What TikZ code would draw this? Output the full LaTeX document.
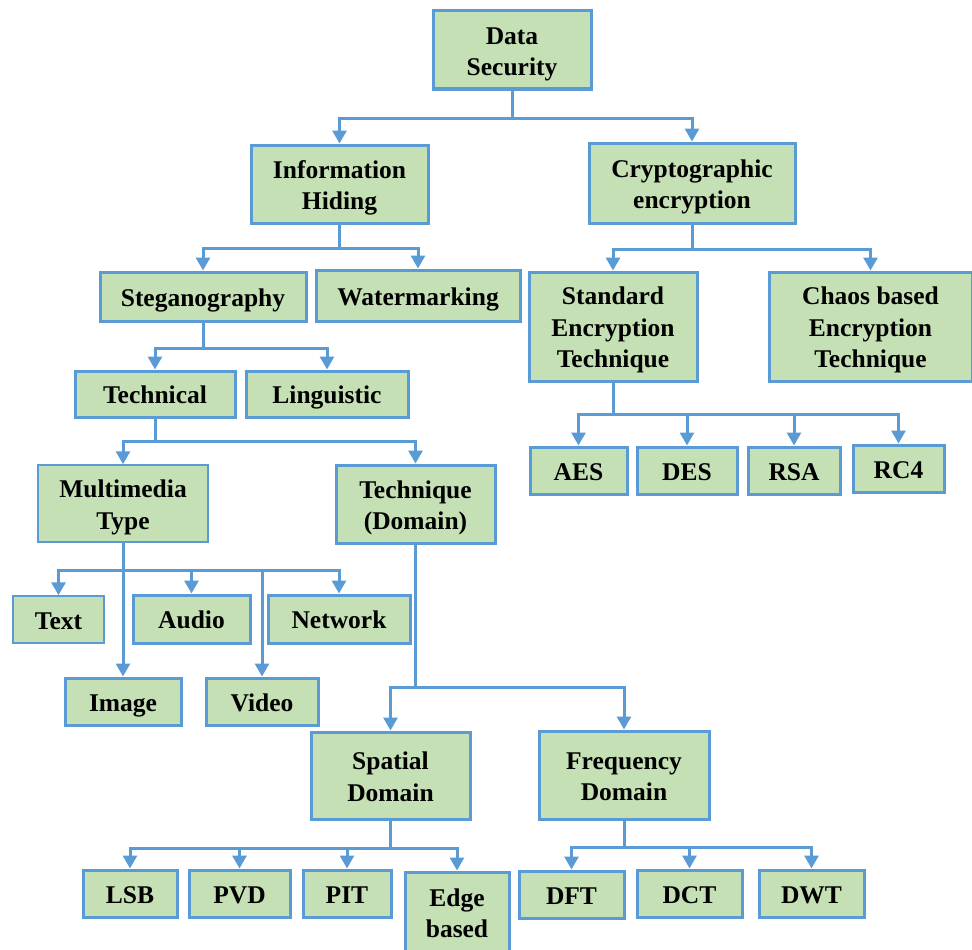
\documentclass[tikz,border=0pt]{standalone}
\usepackage{fontspec}
\setmainfont{Liberation Serif}
\usetikzlibrary{arrows.meta}
\definecolor{boxfill}{HTML}{C5E0B4}
\definecolor{boxline}{HTML}{5B9BD5}
\begin{document}
\begin{tikzpicture}[x=1pt,y=-1pt,
  box/.style={draw=boxline, fill=boxfill, line width=3pt, inner sep=0pt, align=center,
    font=\fontsize{25.5}{31.5}\selectfont\bfseries, text height=20.4pt, text depth=0.5pt},
  lines2/.style={text height=51.9pt},
  lines3/.style={text height=83.4pt},
  thinbox/.style={box, line width=1.5pt},
  conn/.style={draw=boxline, line width=3pt, -{Triangle[width=14pt,length=13pt]}},
  sz/.style 2 args={minimum width=#1pt, minimum height=#2pt}]
\useasboundingbox (0,0) rectangle (972,950);

\node[box, lines2, sz={158}{78}] (ds) at (512,50) {Data\\Security};
\node[box, lines2, sz={177}{78}] (ih) at (339.5,184) {Information\\Hiding};
\node[box, lines2, sz={206}{80}] (ce) at (692,183) {Cryptographic\\encryption};
\node[box, sz={206}{49}] (st) at (203,296.5) {Steganography};
\node[box, sz={204}{51}] (wm) at (418,295.5) {Watermarking};
\node[box, lines3, sz={168}{109}] (se) at (613,326.5) {Standard\\Encryption\\Technique};
\node[box, lines3, sz={203}{109}] (cb) at (870.5,326.5) {Chaos based\\Encryption\\Technique};
\node[box, sz={160}{46}] (te) at (155,394) {Technical};
\node[box, sz={162}{46}] (li) at (327,394) {Linguistic};
\node[box, sz={97}{47}] (aes) at (578.5,470.5) {AES};
\node[box, sz={100}{47}] (des) at (687,470.5) {DES};
\node[box, sz={92}{47}] (rsa) at (794,470.5) {RSA};
\node[box, sz={91}{47}] (rc4) at (898.5,468.5) {RC4};
\node[thinbox, lines2, sz={170}{77}] (mt) at (123,503.5) {Multimedia\\Type};
\node[box, lines2, sz={159}{78}] (td) at (415.5,504) {Technique\\(Domain)};
\node[thinbox, sz={91}{47}] (tx) at (58.5,619.5) {Text};
\node[box, sz={117}{48}] (au) at (191.5,619) {Audio};
\node[box, sz={142}{48}] (nw) at (339,619) {Network};
\node[box, sz={116}{47}] (im) at (123,701.5) {Image};
\node[box, sz={112}{47}] (vi) at (262,701.5) {Video};
\node[box, lines2, sz={159}{87}] (sd) at (390.5,775.5) {Spatial\\Domain};
\node[box, lines2, sz={170}{88}] (fd) at (624,775) {Frequency\\Domain};
\node[box, sz={94}{47}] (lsb) at (130,893.5) {LSB};
\node[box, sz={101}{47}] (pvd) at (239.5,893.5) {PVD};
\node[box, sz={88}{47}] (pit) at (347,893.5) {PIT};
\node[box, lines2, sz={104}{80}] (eb) at (457,912) {Edge\\based};
\node[box, sz={105}{47}] (dft) at (571.5,894.5) {DFT};
\node[box, sz={105}{47}] (dct) at (689.5,893.5) {DCT};
\node[box, sz={105}{47}] (dwt) at (811.5,893.5) {DWT};

\foreach \c in {ih,ce} \draw[conn] (ds.south) -- ++(0,28) -| (\c.north);
\foreach \c in {st,wm} \draw[conn] (ih.south) -- ++(0,24) -| (\c.north);
\foreach \c in {se,cb} \draw[conn] (ce.south) -- ++(0,25) -| (\c.north);
\foreach \c in {te,li} \draw[conn] (st.south) -- ++(0,26) -| (\c.north);
\foreach \c in {mt,td} \draw[conn] (te.south) -- ++(0,23) -| (\c.north);
\foreach \c in {aes,des,rsa,rc4} \draw[conn] (se.south) -- ++(0,32) -| (\c.north);
\foreach \c in {tx,au,nw,vi} \draw[conn] (mt.south) -- ++(0,28) -| (\c.north);
\draw[conn] (mt.south) -- (im.north);
\foreach \c in {sd,fd} \draw[conn] (td.south) -- ++(0,143) -| (\c.north);
\foreach \c in {lsb,pvd,pit,eb} \draw[conn] (sd.south) -- ++(0,28) -| (\c.north);
\foreach \c in {dft,dct,dwt} \draw[conn] (fd.south) -- ++(0,27) -| (\c.north);
\end{tikzpicture}
\end{document}
